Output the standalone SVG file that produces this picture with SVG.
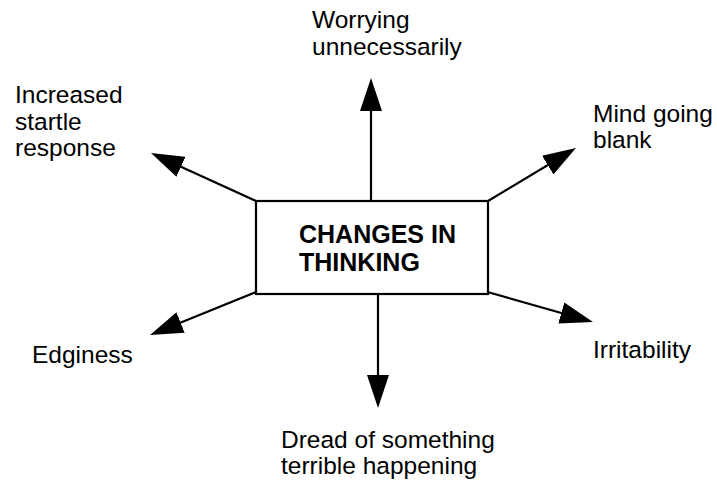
<svg xmlns="http://www.w3.org/2000/svg" width="717" height="485" viewBox="0 0 717 485">
<style>
.lbl{font-family:"Liberation Sans",Arial,sans-serif;font-size:24.5px;fill:#000}
.ttl{font-family:"Liberation Sans",Arial,sans-serif;font-size:25px;font-weight:bold;fill:#000}
.con{stroke:#000;stroke-width:2.2;fill:none}
</style>
<defs>
<marker id="ah" markerUnits="userSpaceOnUse" markerWidth="34" markerHeight="22" viewBox="0 0 34 22" refX="23" refY="11" orient="auto">
<path d="M0,0 L33,11 L0,22 z" fill="#000"/>
</marker>
</defs>
<rect width="717" height="485" fill="#fff"/>
<g id="connectors">
<line class="con" x1="371" y1="201" x2="371" y2="88" marker-end="url(#ah)"/>
<line class="con" x1="256" y1="201" x2="160.1" y2="157.2" marker-end="url(#ah)"/>
<line class="con" x1="488" y1="201" x2="567.4" y2="153.2" marker-end="url(#ah)"/>
<line class="con" x1="256" y1="292" x2="159.3" y2="331.2" marker-end="url(#ah)"/>
<line class="con" x1="378" y1="294" x2="378" y2="398" marker-end="url(#ah)"/>
<line class="con" x1="484" y1="291" x2="583.4" y2="319.3" marker-end="url(#ah)"/>
</g>
<g id="center">
<rect x="256" y="201" width="232" height="93" fill="#fff" stroke="#000" stroke-width="2.2"/>
<text class="ttl" x="299" y="243">CHANGES IN</text>
<text class="ttl" x="299" y="271">THINKING</text>
</g>
<g id="worrying"><text class="lbl" x="312" y="28">Worrying<tspan x="312" y="55">unnecessarily</tspan></text></g>
<g id="startle"><text class="lbl" x="15" y="103">Increased<tspan x="15" y="130">startle</tspan><tspan x="15" y="156">response</tspan></text></g>
<g id="blank"><text class="lbl" x="593" y="122">Mind going<tspan x="593" y="148">blank</tspan></text></g>
<g id="edginess"><text class="lbl" x="32" y="363">Edginess</text></g>
<g id="irritability"><text class="lbl" x="593" y="358">Irritability</text></g>
<g id="dread"><text class="lbl" x="281" y="448">Dread of something<tspan x="281" y="474">terrible happening</tspan></text></g>
</svg>
